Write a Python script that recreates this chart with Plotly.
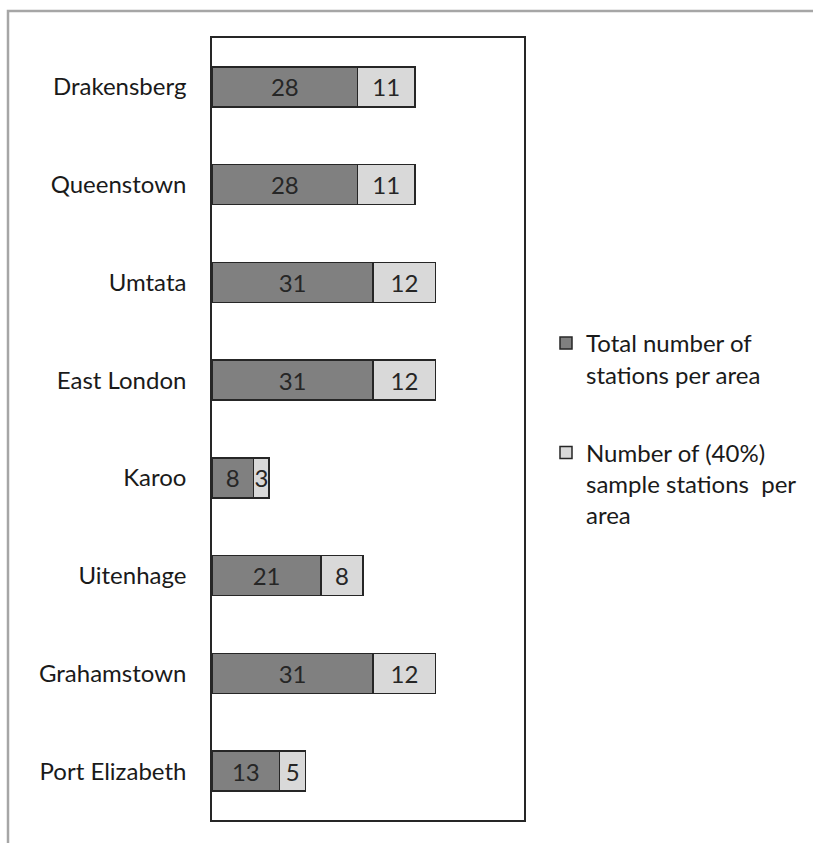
import plotly.graph_objects as go

# Station counts per area
areas = ["Drakensberg", "Queenstown", "Umtata", "East London",
         "Karoo", "Uitenhage", "Grahamstown", "Port Elizabeth"]
total_stations = [28, 28, 31, 31, 8, 21, 31, 13]
sample_stations = [11, 11, 12, 12, 3, 8, 12, 5]

series_names = ["Total number of<br>stations per area",
                "Number of (40%)<br>sample stations  per<br>area"]

FONT = "Lato"
FSIZE = 24
W, H = 813, 843
L, R, T, B = 212, 289, 38, 23

fig = go.Figure()
fig.add_trace(go.Bar(
    y=areas, x=total_stations, orientation="h", name=series_names[0],
    legendgroup="total",
    marker=dict(color="#808080", line=dict(color="#262626", width=1.5)),
    text=total_stations, textposition="inside", insidetextanchor="middle",
    textangle=0, constraintext="none",
    textfont=dict(family=FONT, size=FSIZE, color="#262626"),
))
fig.add_trace(go.Bar(
    y=areas, x=sample_stations, orientation="h", name=series_names[1],
    legendgroup="sample",
    marker=dict(color="#D9D9D9", line=dict(color="#262626", width=1.5)),
    text=sample_stations, textposition="inside", insidetextanchor="middle",
    textangle=0, constraintext="none",
    textfont=dict(family=FONT, size=FSIZE, color="#262626"),
))

# outer chart frame (gray), extending past the right and bottom edges
pw, ph = W - L - R, H - T - B
def px_x(p):
    return (p - L) / pw
def px_y(p):
    return (H - B - p) / ph

fig.add_shape(type="rect", xref="paper", yref="paper",
              x0=px_x(8), x1=px_x(W + 20), y0=px_y(H + 20), y1=px_y(11),
              line=dict(color="#A6A6A6", width=2.5), fillcolor="rgba(0,0,0,0)",
              layer="below")

fig.update_layout(
    width=W, height=H,
    margin=dict(l=L, r=R, t=T, b=B, autoexpand=False),
    barmode="stack", bargap=0.59,
    paper_bgcolor="white", plot_bgcolor="white",
    font=dict(family=FONT, size=FSIZE, color="#1a1a1a"),
    uniformtext=dict(minsize=FSIZE, mode="show"),
    showlegend=True,
    legend=dict(x=px_x(546), xanchor="left", y=0.5, yanchor="middle",
                traceorder="grouped", tracegroupgap=44, valign="top",
                itemwidth=30, font=dict(family=FONT, size=FSIZE, color="#1a1a1a"),
                bgcolor="rgba(0,0,0,0)"),
    xaxis=dict(range=[0, 60], showticklabels=False, showgrid=False,
               zeroline=False, ticks="", showline=True, mirror=True,
               linecolor="#262626", linewidth=1.5, fixedrange=True),
    yaxis=dict(categoryorder="array", categoryarray=areas[::-1],
               showgrid=False, zeroline=False, ticks="",
               ticklabelstandoff=19,
               showline=True, mirror=True, linecolor="#262626", linewidth=1.5,
               tickfont=dict(family=FONT, size=FSIZE, color="#1a1a1a")),
)

fig.write_html("out.html")
